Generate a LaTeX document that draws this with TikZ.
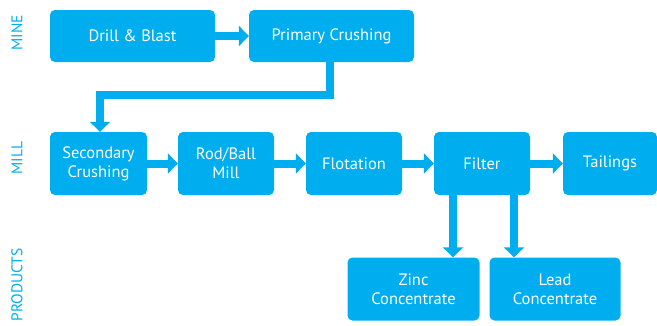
\documentclass[tikz,border=0pt]{standalone}
\usepackage{fontspec}
\setmainfont{PT Sans}
\usetikzlibrary{arrows.meta,positioning,calc}
\definecolor{cy}{HTML}{00AEEF}
\tikzset{
  box/.style={fill=cy, rounded corners=5pt, text=white, align=center, inner sep=0pt,
    font=\fontsize{16.5}{19}\selectfont},
  arr/.style={draw=cy, line width=8pt, line join=miter,
    -{Triangle[width=20pt,length=10pt]}},
  lab/.style={text=cy, rotate=90, font=\fontsize{15.5}{18}\selectfont, inner sep=0pt}
}
\begin{document}
\begin{tikzpicture}[x=1pt,y=-1pt]
\useasboundingbox (0,0) rectangle (657,325);
\node[box, minimum width=165pt, minimum height=52pt] (drill) at (132.5,36) {Drill \& Blast};
\node[box, minimum width=165pt, minimum height=52pt] (primary) at (331.5,36) {Primary Crushing};
\node[box, minimum width=97pt, minimum height=63pt] (second) at (98.5,163.5) {Secondary\\Crushing};
\node[box, minimum width=96pt, minimum height=63pt] (rod) at (226,163.5) {Rod/Ball\\Mill};
\node[box, minimum width=96pt, minimum height=63pt] (flot) at (354,163.5) {Flotation};
\node[box, minimum width=96pt, minimum height=63pt] (filter) at (482,163.5) {Filter};
\node[box, minimum width=94pt, minimum height=63pt] (tail) at (610,163.5) {Tailings};
\node[box, minimum width=132pt, minimum height=63pt] (zinc) at (413.5,289) {Zinc\\Concentrate};
\node[box, minimum width=131pt, minimum height=63pt] (lead) at (555,289) {Lead\\Concentrate};
\node[lab] (mine) at (17,33) {MINE};
\node[lab] (mill) at (17,158) {MILL};
\node[lab] (prod) at (17,285) {PRODUCTS};
\draw[arr] (drill) -- (primary);
\draw[arr] ([xshift=-1.5pt]primary.south) -- ++(0,33) -| ([xshift=1.5pt]second.north);
\draw[arr] (second) -- (rod);
\draw[arr] (rod) -- (flot);
\draw[arr] (flot) -- (filter);
\draw[arr] (filter) -- (tail);
\draw[arr] ([xshift=-29pt]filter.south) -- ([xshift=-29pt]filter.south |- zinc.north);
\draw[arr] ([xshift=32pt]filter.south) -- ([xshift=32pt]filter.south |- lead.north);
\end{tikzpicture}
\end{document}
